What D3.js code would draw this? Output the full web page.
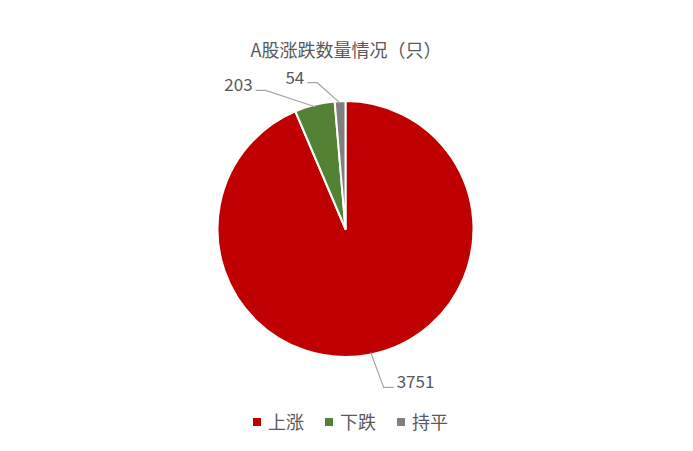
<!DOCTYPE html>
<html>
<head>
<meta charset="utf-8">
<script src="https://cdn.jsdelivr.net/npm/d3@7"></script>
<style>
  body { margin: 0; background: #fff; }
  text { font-family: "Noto Sans CJK SC", "Noto Sans", sans-serif; fill: #595959; }
</style>
</head>
<body>
<div id="chart"></div>
<script>
// chart data
var categories = ["上涨", "下跌", "持平"];
var values = [3751, 203, 54];
var colors = ["#C00000", "#548235", "#7F7F7F"];
var title = "A股涨跌数量情况（只）";

// label placement: angle shift (deg) and radius of the elbow point
var labelShift = [-2, -16, -8.5];
var labelRadius = [163, 160, 149];

var WIDTH = 693, HEIGHT = 451;
var CX = 345.5, CY = 229, R = 128;

var svg = d3.select("#chart").append("svg")
    .attr("width", WIDTH)
    .attr("height", HEIGHT);

svg.append("text")
    .attr("x", 346).attr("y", 57)
    .attr("text-anchor", "middle")
    .attr("font-size", 18)
    .text(title);

var pie = d3.pie().sort(null).value(function (d) { return d; });
var arcs = pie(values);
var arc = d3.arc().innerRadius(0).outerRadius(R);

var g = svg.append("g").attr("transform", "translate(" + CX + "," + CY + ")");

g.selectAll("path.slice").data(arcs).enter().append("path")
    .attr("class", "slice")
    .attr("d", arc)
    .attr("fill", function (d, i) { return colors[i]; })
    .attr("stroke", "#fff")
    .attr("stroke-width", 2)
    .attr("stroke-linejoin", "round");

// leader lines + labels
function polar(a, r) { return [r * Math.sin(a), -r * Math.cos(a)]; }

arcs.forEach(function (d, i) {
    var mid = (d.startAngle + d.endAngle) / 2;
    var p0 = polar(mid, R - 2);
    var p1 = polar(mid + labelShift[i] * Math.PI / 180, labelRadius[i]);
    var right = p1[0] > 0;
    var p2 = [p1[0] + (right ? 10 : -10), p1[1]];
    g.append("polyline")
        .attr("points", [p0, p1, p2].map(function (p) { return p.join(","); }).join(" "))
        .attr("fill", "none")
        .attr("stroke", "#A6A6A6")
        .attr("stroke-width", 1.2);
    g.append("text")
        .attr("x", p2[0] + (right ? 3 : -3))
        .attr("y", p2[1] + 1)
        .attr("text-anchor", right ? "start" : "end")
        .attr("font-size", 17)
        .text(values[i]);
});

// legend
var legend = svg.append("g");
var x = 0;
categories.forEach(function (c, i) {
    legend.append("rect")
        .attr("x", x).attr("y", 418)
        .attr("width", 8).attr("height", 8)
        .attr("fill", colors[i]);
    var t = legend.append("text")
        .attr("x", x + 15).attr("y", 429)
        .attr("font-size", 18)
        .text(c);
    x += 15 + t.node().getComputedTextLength() + 21;
});
var lw = x - 21;
legend.attr("transform", "translate(" + (350.5 - lw / 2) + ",0)");
</script>
</body>
</html>
